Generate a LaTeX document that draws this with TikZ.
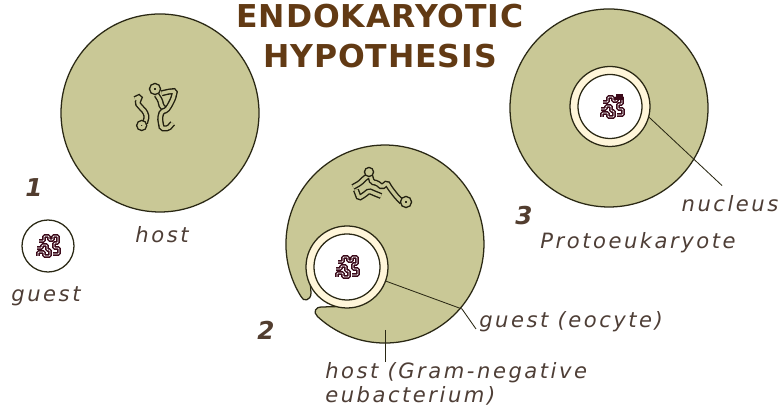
\documentclass[tikz,border=0pt]{standalone}
\usepackage{fontspec}
\setmainfont{DejaVu Sans}
\newfontfamily\labelfont[LetterSpace=12]{DejaVu Sans}
\newfontfamily\titlefont[LetterSpace=3]{DejaVu Sans}
\usetikzlibrary{positioning}

\definecolor{cyto}{RGB}{201,200,150}
\definecolor{rim}{RGB}{42,40,20}
\definecolor{band}{RGB}{255,246,218}
\definecolor{titlebrown}{RGB}{98,58,20}
\definecolor{labelgrey}{RGB}{78,62,54}
\definecolor{chromo}{RGB}{60,10,26}

\tikzset{
  cell/.style={fill=cyto, draw=rim, line width=0.9pt},
  membrane/.style={circle, fill=band, draw=rim, line width=0.9pt, inner sep=0pt, outer sep=0pt},
  nucleoid/.style={circle, fill=white, draw=rim, line width=0.9pt, inner sep=0pt, outer sep=0pt},
  dna/.style={draw=rim!80!black, line width=1pt, double=cyto, double distance=2.3pt, rounded corners=1pt},
  gdna/.style={draw=chromo, line width=1.05pt, double=white, double distance=0.45pt, rounded corners=0.6pt},
  tag/.style={font=\labelfont\itshape\fontsize{15}{17.5}\selectfont, text=labelgrey, inner sep=0pt, align=left},
  stage/.style={font=\labelfont\bfseries\itshape\fontsize{17.5}{18}\selectfont, text=labelgrey!80!titlebrown, inner sep=0pt},
  leader/.style={draw=rim, line width=0.6pt},
}

% small squiggly chromosome of the guest cell
\newcommand{\guestdna}[1]{%
  \begin{scope}[shift={(#1)}, yscale=-1]
    \draw[gdna] (-9,-5) -- (-4,-5) -- (-4,-10) -- (1,-10) -- (1,-6) -- (5,-6) -- (5,-10)
      -- (10,-10) -- (10,-3) -- (6,-3) -- (6,2) -- (11,2) -- (11,8) -- (5,8);
    \draw[gdna] (-11,2) -- (-6,2) -- (-6,-1) -- (-1,-1) -- (-1,4) -- (2,4) -- (2,10)
      -- (-4,10) -- (-4,6) -- (-10,6) -- (-10,10);
  \end{scope}}

\begin{document}
\begin{tikzpicture}[x=0.25mm, y=0.25mm]
  \path[use as bounding box, fill=white] (0,0) rectangle (784,418);

  % title
  \node[font=\titlefont\bfseries\fontsize{22.4}{28.5}\selectfont, text=titlebrown, align=center]
    (title) at (380,382) {ENDOKARYOTIC\\HYPOTHESIS};

  % 1: host and free guest
  \node[cell, circle, minimum size=49.5mm, inner sep=0pt] (host1) at (160,305) {};
  \begin{scope}[shift={(157,308)}, yscale=-1]
    \draw[dna] (-22,-11) -- (-17,-13.3) -- (-19.7,-6.7) -- (-15.3,-1.7) -- (-12,1.7)
      -- (-10.3,6.7) -- (-12,13.3);
    \draw[dna] (-15.3,15.5) circle (2.5);
    \draw[dna] (-2,-21) circle (3);
    \draw[dna] (-0.3,-15) -- (3,-10) -- (4.7,-3.3) -- (9.7,0);
    \draw[dna] (4.7,-16.7) -- (11.3,-18.3) -- (18,-19) -- (16.3,-11.7) -- (13,-5) -- (9.7,0)
      -- (4.7,1.7) -- (3,8.3) -- (4.7,18.3) -- (11.3,18.3) -- (15.7,13.3);
  \end{scope}
  \node[tag] (hosttag1) at (162,183) {host};
  \node[stage] (one) at (34,230) {1};
  \node[nucleoid, minimum size=13mm] (guest1) at (48,172) {};
  \guestdna{48,172}
  \node[tag] (guesttag1) at (46,122) {guest};

  % 2: host wrapping round the guest
  \path[cell] (301.0,121.5) arc[start angle=212, end angle=-133, radius=99]
    .. controls (313,106) and (315,111) .. (322,111)
    -- (340,111.5) -- (347,151) -- (310,140) -- (311,125)
    .. controls (311,117) and (303,116) .. cycle;
  \begin{scope}[shift={(380,230)}, yscale=-1]
    \draw[dna] (-27,-1) -- (-20,-5) -- (-15,-10) -- (-10,-13) -- (-8,-6) -- (-3,-5) -- (2,-1)
      -- (7,-5) -- (10,0) -- (13,4) -- (17,9) -- (22,14);
    \draw[dna] (26,14) circle (3);
    \draw[dna] (-11,-16) circle (2);
    \draw[dna] (-24,2) -- (-21,10) -- (-16,7) -- (-11,3) -- (-4,6) -- (1,8);
  \end{scope}
  \node[membrane, minimum size=20.5mm] (eocyte) at (347,151) {};
  \node[nucleoid, minimum size=16.5mm] (eocyte in) at (eocyte) {};
  \guestdna{347,151}
  \coordinate (bend) at (462,109);
  \coordinate (hostpin) at (385,88);
  \node[stage] (two) at (266,88) {2};
  \node[tag, anchor=west] (eocytetag) at (479,96) {guest (eocyte)};
  \node[tag, anchor=north west] (hosttag2) at (325,56) {host (Gram-negative\\eubacterium)};
  \draw[leader] (eocyte.-20) -- (bend) -- ([shift={(-3,-7)}]eocytetag.west);
  \draw[leader] (hostpin) -- (hostpin |- hosttag2.north);

  % 3: protoeukaryote with its nucleus
  \node[cell, circle, minimum size=49.5mm, inner sep=0pt] (proto) at (609,310) {};
  \node[membrane, minimum size=20mm] (nucleus) at (610,311.5) {};
  \node[nucleoid, minimum size=16mm] (nucleus in) at (nucleus) {};
  \guestdna{612,311}
  \fill[chromo] (616,318) rectangle (623,324);
  \node[stage] (three) at (524,202) {3};
  \node[tag] (nuctag) at (730,214) {nucleus};
  \node[tag] (prototag) at (638,175) {Protoeukaryote};
  \draw[leader] (nucleus.-15) -- ([shift={(-8,10)}]nuctag.north);
\end{tikzpicture}
\end{document}
